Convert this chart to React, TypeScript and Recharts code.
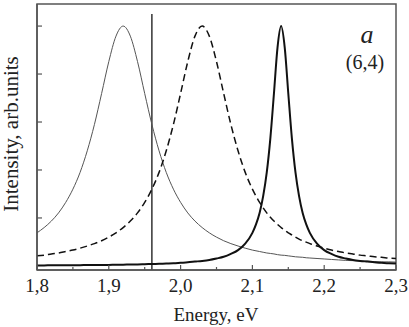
import React from "react";
import { LineChart, Line, XAxis, YAxis, ReferenceLine, ReferenceArea } from "recharts";

// photon energy, eV
const energy = [
  1.8, 1.81, 1.82, 1.83, 1.84, 1.85, 1.86, 1.87, 1.88, 1.89,
  1.9, 1.91, 1.92, 1.93, 1.94, 1.95, 1.96, 1.97, 1.98, 1.99,
  2.0, 2.01, 2.02, 2.03, 2.04, 2.05, 2.06, 2.07, 2.08, 2.09,
  2.1, 2.105, 2.11, 2.115, 2.12, 2.125, 2.13, 2.135, 2.14, 2.145,
  2.15, 2.155, 2.16, 2.165, 2.17, 2.175, 2.18, 2.19, 2.2, 2.21,
  2.22, 2.23, 2.24, 2.25, 2.26, 2.27, 2.28, 2.29, 2.3,
];

// thin solid line, peak near 1.92 eV
const thinBand = [
  0.138, 0.16, 0.187, 0.221, 0.265, 0.32, 0.39, 0.48, 0.59, 0.719,
  0.852, 0.958, 1.0, 0.958, 0.852, 0.719, 0.59, 0.48, 0.39, 0.32,
  0.265, 0.221, 0.187, 0.16, 0.138, 0.12, 0.105, 0.093, 0.083, 0.074,
  0.066, 0.063, 0.06, 0.057, 0.054, 0.052, 0.05, 0.047, 0.045, 0.044,
  0.042, 0.04, 0.038, 0.037, 0.036, 0.034, 0.033, 0.031, 0.029, 0.027,
  0.025, 0.023, 0.022, 0.021, 0.02, 0.018, 0.017, 0.017, 0.016,
];

// dashed line, peak near 2.03 eV
const dashedBand = [
  0.042, 0.045, 0.05, 0.054, 0.06, 0.066, 0.074, 0.083, 0.093, 0.105,
  0.12, 0.138, 0.16, 0.187, 0.221, 0.265, 0.32, 0.39, 0.48, 0.59,
  0.719, 0.852, 0.958, 1.0, 0.958, 0.852, 0.719, 0.59, 0.48, 0.39,
  0.32, 0.291, 0.265, 0.242, 0.221, 0.203, 0.187, 0.173, 0.16, 0.148,
  0.138, 0.129, 0.12, 0.112, 0.105, 0.099, 0.093, 0.083, 0.074, 0.066,
  0.06, 0.054, 0.05, 0.045, 0.042, 0.038, 0.036, 0.033, 0.031,
];

// thick solid line, narrow peak near 2.14 eV
const thickBand = [
  0.002, 0.002, 0.003, 0.003, 0.003, 0.003, 0.003, 0.004, 0.004, 0.004,
  0.004, 0.005, 0.005, 0.006, 0.006, 0.007, 0.008, 0.009, 0.01, 0.011,
  0.013, 0.015, 0.018, 0.021, 0.025, 0.031, 0.038, 0.05, 0.066, 0.093,
  0.138, 0.173, 0.221, 0.291, 0.39, 0.532, 0.719, 0.911, 1.0, 0.911,
  0.719, 0.532, 0.39, 0.291, 0.221, 0.173, 0.138, 0.093, 0.066, 0.05,
  0.038, 0.031, 0.025, 0.021, 0.018, 0.015, 0.013, 0.011, 0.01,
];

const xTicks = [1.8, 1.85, 1.9, 1.95, 2.0, 2.05, 2.1, 2.15, 2.2, 2.25, 2.3];
const yTicks = [0.2, 0.4, 0.6, 0.8, 1.0];
const xDomain = [1.8, 2.3];
const yDomain = [-0.017, 1.092];
const markerEnergy = 1.96;

const data = energy.map((e, i) => ({
  e,
  thin: thinBand[i],
  dashed: dashedBand[i],
  thick: thickBand[i],
}));

const serif = "'Liberation Serif', 'Times New Roman', serif";
const frame = "#555";

function EnergyTick({ x, y, payload }: any) {
  const v = payload.value as number;
  const major = Math.abs(v * 10 - Math.round(v * 10)) < 1e-6;
  return (
    <g>
      <line x1={x} x2={x} y1={y} y2={y - (major ? 5 : 3)} stroke={frame} strokeWidth={1.2} />
      {major && (
        <text x={x} y={y + 22} textAnchor="middle" fontSize={19} fontFamily={serif} fill="#222">
          {v.toFixed(1).replace(".", ",")}
        </text>
      )}
    </g>
  );
}

function IntensityTick({ x, y }: any) {
  return <line x1={x} x2={x + 5} y1={y} y2={y} stroke={frame} strokeWidth={1.2} />;
}

export default function App() {
  return (
    <div style={{ position: "absolute", left: 0, top: 0, background: "#fff" }}>
      <LineChart
        width={409}
        height={327}
        data={data}
        margin={{ top: 4, right: 13, left: 0, bottom: 0 }}
      >
        <XAxis
          dataKey="e"
          type="number"
          domain={xDomain}
          ticks={xTicks}
          interval={0}
          allowDataOverflow
          height={57}
          tickSize={0}
          tickMargin={0}
          tickLine={false}
          tick={<EnergyTick />}
          axisLine={{ stroke: frame, strokeWidth: 1.5 }}
          label={() => (
            <text x={216} y={321} textAnchor="middle" fontSize={19} fontFamily={serif} fill="#222">
              Energy, eV
            </text>
          )}
        />
        <YAxis
          type="number"
          domain={yDomain}
          ticks={yTicks}
          interval={0}
          allowDataOverflow
          width={37}
          tickSize={0}
          tickMargin={0}
          tickLine={false}
          tick={<IntensityTick />}
          axisLine={{ stroke: frame, strokeWidth: 1.5 }}
          label={() => (
            <g fontFamily={serif} fill="#222">
              <text
                transform="translate(18,134) rotate(-90)"
                textAnchor="middle"
                fontSize={21}
              >
                Intensity, arb.units
              </text>
              <text x={367} y={43} textAnchor="middle" fontSize={26} fontStyle="italic">
                a
              </text>
              <text x={365} y={69} textAnchor="middle" fontSize={20}>
                (6,4)
              </text>
            </g>
          )}
        />
        <ReferenceArea
          x1={xDomain[0]}
          x2={xDomain[1]}
          y1={yDomain[0]}
          y2={yDomain[1]}
          fill="none"
          fillOpacity={0}
          stroke={frame}
          strokeWidth={1.5}
          ifOverflow="extendDomain"
        />
        <ReferenceLine
          segment={[
            { x: markerEnergy, y: -0.017 },
            { x: markerEnergy, y: 1.05 },
          ]}
          stroke="#333"
          strokeWidth={1.5}
        />
        <Line
          type="monotone"
          dataKey="thin"
          stroke="#555"
          strokeWidth={1}
          dot={false}
          isAnimationActive={false}
        />
        <Line
          type="monotone"
          dataKey="dashed"
          stroke="#111"
          strokeWidth={1.5}
          strokeDasharray="7 4"
          dot={false}
          isAnimationActive={false}
        />
        <Line
          type="monotone"
          dataKey="thick"
          stroke="#111"
          strokeWidth={2}
          dot={false}
          isAnimationActive={false}
        />
      </LineChart>
    </div>
  );
}
